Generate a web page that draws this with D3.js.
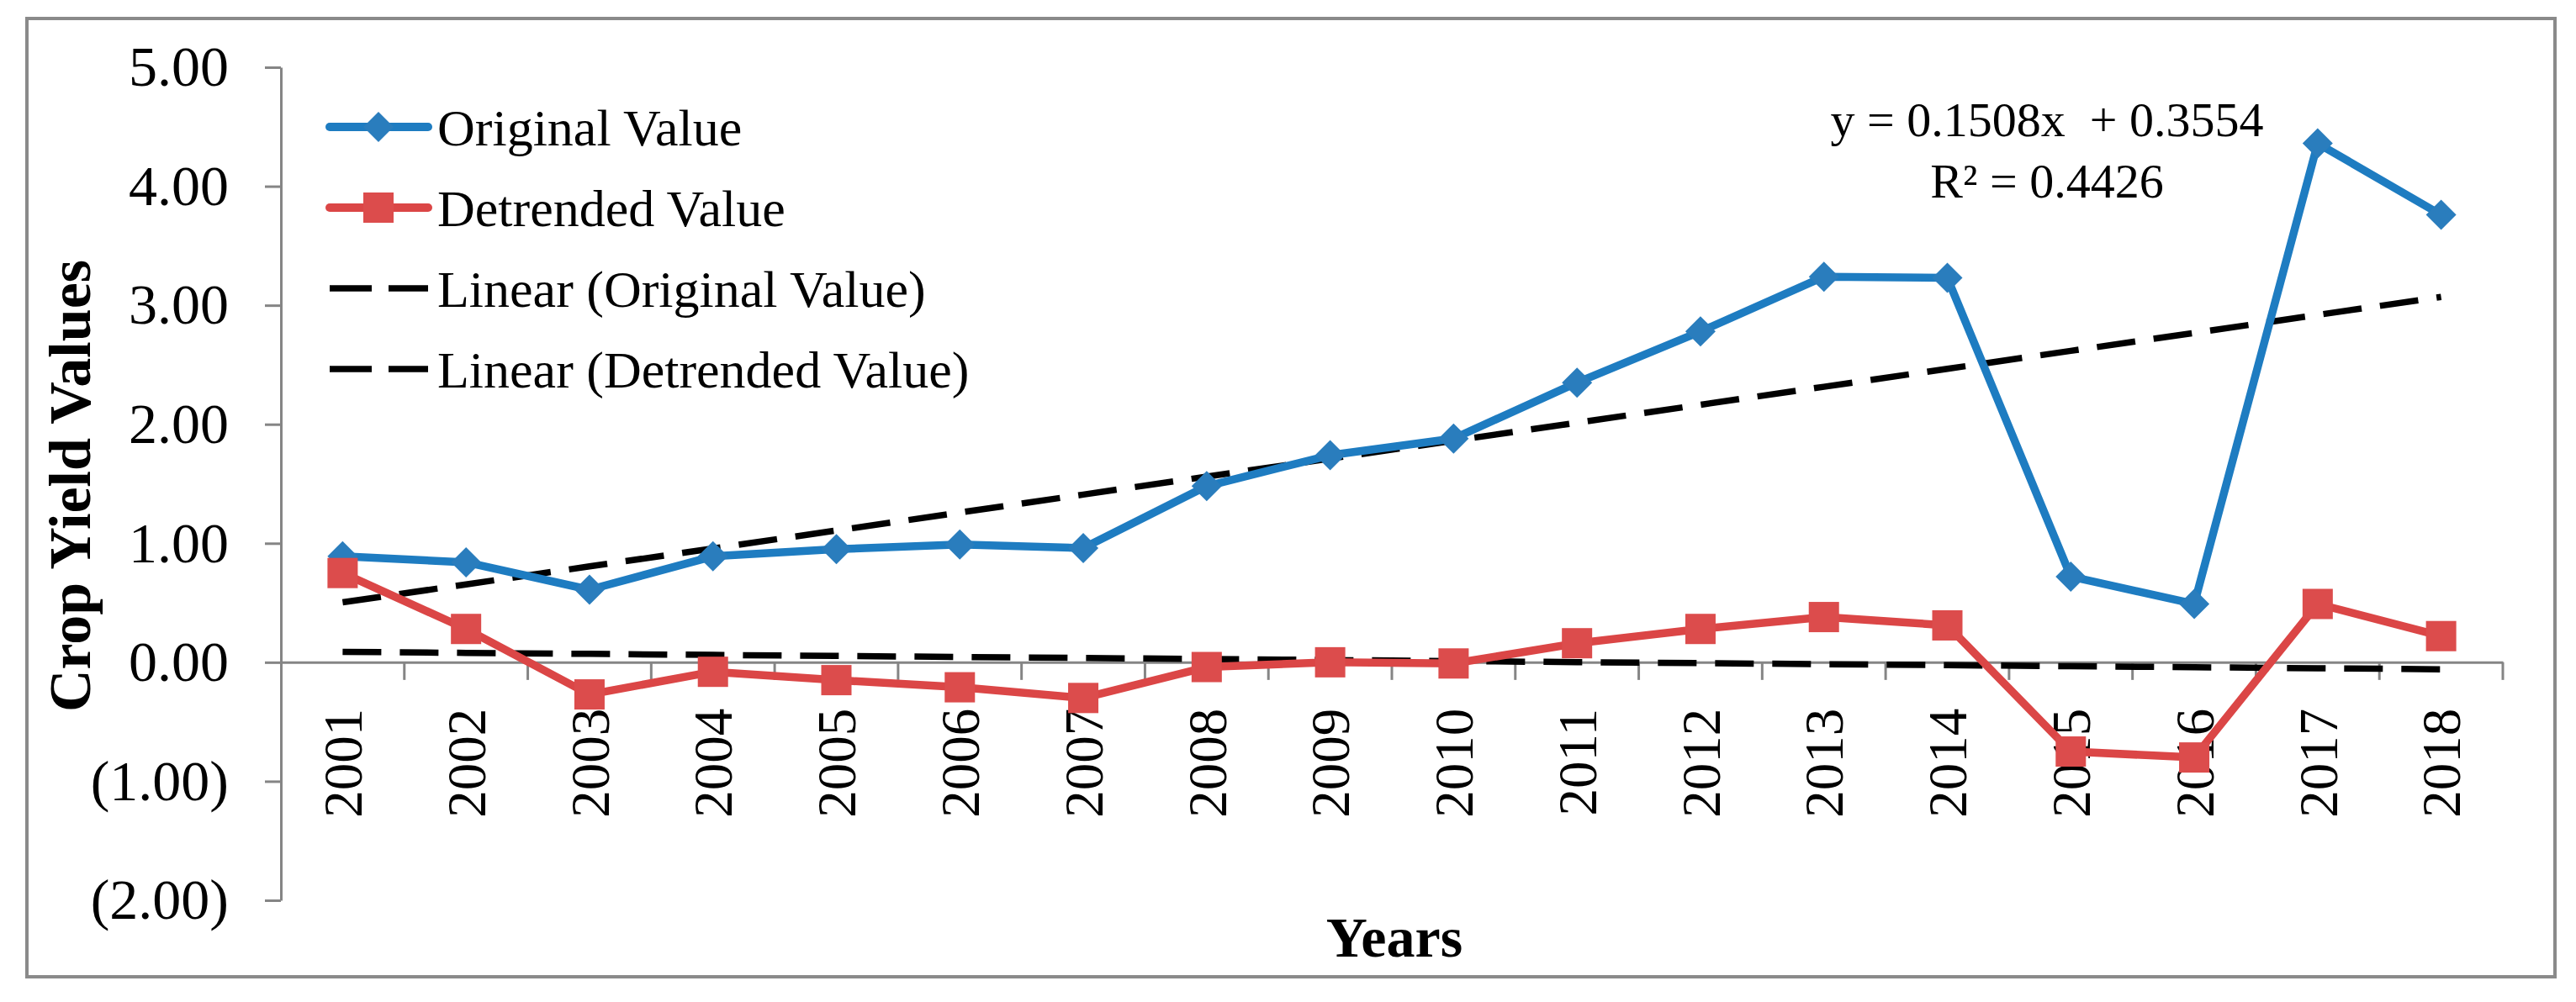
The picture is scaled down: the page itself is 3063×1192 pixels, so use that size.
<!DOCTYPE html>
<html>
<head>
<meta charset="utf-8">
<script src="https://cdnjs.cloudflare.com/ajax/libs/d3/7.8.5/d3.min.js"></script>
<style>
    body { margin: 0; background: #fff; }
    svg { display: block; }
    text { font-family: "Liberation Serif", "Times New Roman", serif; fill: #000; }
</style>
</head>
<body>
<svg id="drawing_region"></svg>
<script>
// data
const years = ["2001","2002","2003","2004","2005","2006","2007","2008","2009",
               "2010","2011","2012","2013","2014","2015","2016","2017","2018"];
const originalValues = [0.89, 0.84, 0.61, 0.89, 0.95, 0.99, 0.96, 1.48, 1.74,
                        1.88, 2.35, 2.78, 3.24, 3.23, 0.72, 0.49, 4.36, 3.76];
const detrendedValues = [0.75, 0.28, -0.27, -0.08, -0.15, -0.21, -0.30, -0.04, 0.00,
                         -0.01, 0.16, 0.28, 0.38, 0.31, -0.75, -0.80, 0.49, 0.22];
const yTicks = [-2, -1, 0, 1, 2, 3, 4, 5];
const legendLabels = ["Original Value", "Detrended Value",
                      "Linear (Original Value)", "Linear (Detrended Value)"];
const equationLines = ["y = 0.1508x  + 0.3554", "R\u00B2 = 0.4426"];

// least squares fit with x = 1..n (same as the spreadsheet trendline)
function linearFit( values ) {
    const xs = values.map( (v, i) => i + 1 );
    const mx = d3.mean(xs), my = d3.mean(values);
    const sxy = d3.sum( xs, (x, i) => (x - mx) * (values[i] - my) );
    const sxx = d3.sum( xs, x => (x - mx) * (x - mx) );
    const slope = sxy / sxx;
    return values.map( (v, i) => my + slope * (xs[i] - mx) );
}

class LineChart {

    constructor( config ) {
        this.config = config;
        this.init();
    }

    init() {
        let self = this;
        const c = self.config;

        self.svg = d3.select( c.parent )
            .attr('width', c.width)
            .attr('height', c.height);

        self.svg.append('rect')
            .attr('x', 32).attr('y', 22)
            .attr('width', 3006).attr('height', 1140)
            .attr('fill', '#fff')
            .attr('stroke', '#8a8a8a')
            .attr('stroke-width', 4);

        self.xscale = d3.scaleBand()
            .domain( years )
            .range( [334, 2976] );

        self.yscale = d3.scaleLinear()
            .domain( [-2, 5] )
            .range( [1071, 80] );
    }

    render() {
        let self = this;
        const x = self.xscale, y = self.yscale;
        const cx = d => x(d) + x.bandwidth() / 2;
        const axisColor = '#858585';

        // y axis
        const fmt = d => d < 0 ? `(${Math.abs(d).toFixed(2)})` : d.toFixed(2);
        const yAxis = self.svg.append('g')
            .attr('transform', 'translate(334,0)')
            .call( d3.axisLeft(y).tickValues(yTicks).tickFormat(fmt)
                   .tickSize(19).tickSizeOuter(0).tickPadding(43) );
        yAxis.selectAll('path, line').attr('stroke', axisColor).attr('stroke-width', 3);
        yAxis.selectAll('text')
            .style('font-size', '68px')
            .style('font-family', '"Liberation Serif", "Times New Roman", serif');

        // x axis at zero
        const xAxis = self.svg.append('g')
            .attr('transform', `translate(0,${y(0)})`)
            .call( d3.axisBottom(x).tickSize(0).tickSizeOuter(0) );
        xAxis.select('.domain').attr('stroke', axisColor).attr('stroke-width', 3);
        xAxis.selectAll('text')
            .attr('transform', 'rotate(-90)')
            .attr('text-anchor', 'end')
            .attr('x', -55)
            .attr('y', 0)
            .attr('dy', '0.35em')
            .style('font-size', '65px')
            .style('font-family', '"Liberation Serif", "Times New Roman", serif');

        const edges = years.slice(1).map( d => x(d) ).concat( [x.range()[1]] );
        xAxis.selectAll('.edge')
            .data( edges )
            .enter()
            .append('line')
            .attr('x1', d => d).attr('x2', d => d)
            .attr('y1', 0).attr('y2', 21)
            .attr('stroke', axisColor)
            .attr('stroke-width', 3);

        // trend lines
        const line = d3.line()
            .x( (d, i) => cx(years[i]) )
            .y( d => y(d) );

        const dash = '46,22';
        [originalValues, detrendedValues].forEach( vals => {
            self.svg.append('path')
                .attr('d', line( linearFit(vals) ))
                .attr('fill', 'none')
                .attr('stroke', '#000')
                .attr('stroke-width', 7.5)
                .attr('stroke-dasharray', dash);
        });

        // series
        const blue = '#1e7cc1', blueMark = '#2a7dbd';
        const red = '#db4646', redMark = '#dc4c4c';
        const diamond = 'M0,-18L18,0L0,18L-18,0Z';

        self.svg.append('path')
            .attr('d', line( originalValues ))
            .attr('fill', 'none')
            .attr('stroke', blue)
            .attr('stroke-width', 9.5)
            .attr('stroke-linejoin', 'round');

        self.svg.append('path')
            .attr('d', line( detrendedValues ))
            .attr('fill', 'none')
            .attr('stroke', red)
            .attr('stroke-width', 9.5)
            .attr('stroke-linejoin', 'round');

        self.svg.selectAll('.diamond')
            .data( originalValues )
            .enter()
            .append('path')
            .attr('class', 'diamond')
            .attr('d', diamond)
            .attr('transform', (d, i) => `translate(${cx(years[i])},${y(d)})`)
            .attr('fill', blueMark);

        self.svg.selectAll('.square')
            .data( detrendedValues )
            .enter()
            .append('rect')
            .attr('class', 'square')
            .attr('x', (d, i) => cx(years[i]) - 18)
            .attr('y', d => y(d) - 18)
            .attr('width', 36).attr('height', 36)
            .attr('fill', redMark);

        // legend
        const legend = self.svg.append('g');
        const rowY = [151, 247, 343, 439];
        legendLabels.forEach( (label, i) => {
            const g = legend.append('g').attr('transform', `translate(0,${rowY[i]})`);
            if (i < 2) {
                g.append('line')
                    .attr('x1', 392).attr('x2', 509)
                    .attr('stroke', i == 0 ? blue : red)
                    .attr('stroke-width', 10)
                    .attr('stroke-linecap', 'round');
                if (i == 0) {
                    g.append('path').attr('d', diamond)
                        .attr('transform', 'translate(450,0)')
                        .attr('fill', blueMark);
                } else {
                    g.append('rect')
                        .attr('x', 432).attr('y', -18)
                        .attr('width', 36).attr('height', 36)
                        .attr('fill', redMark);
                }
            } else {
                g.append('line')
                    .attr('x1', 392).attr('x2', 509)
                    .attr('stroke', '#000')
                    .attr('stroke-width', 7.5)
                    .attr('stroke-dasharray', '50,20');
            }
            g.append('text')
                .attr('x', 520)
                .attr('dy', '0.35em')
                .style('font-size', '62px')
                .text( label );
        });

        // trendline equation
        self.svg.selectAll('.eq')
            .data( equationLines )
            .enter()
            .append('text')
            .attr('class', 'eq')
            .attr('x', 2434)
            .attr('y', (d, i) => 162 + i * 73)
            .attr('text-anchor', 'middle')
            .style('font-size', '58px')
            .style('white-space', 'pre')
            .text( d => d );

        // axis titles
        self.svg.append('text')
            .attr('transform', 'translate(107,578) rotate(-90)')
            .attr('text-anchor', 'middle')
            .style('font-size', '70px')
            .style('font-weight', 'bold')
            .text('Crop Yield Values');

        self.svg.append('text')
            .attr('x', 1658)
            .attr('y', 1138)
            .attr('text-anchor', 'middle')
            .style('font-size', '68px')
            .style('font-weight', 'bold')
            .text('Years');
    }
}

const chart = new LineChart({ parent: '#drawing_region', width: 3063, height: 1192 });
chart.render();
</script>
</body>
</html>
